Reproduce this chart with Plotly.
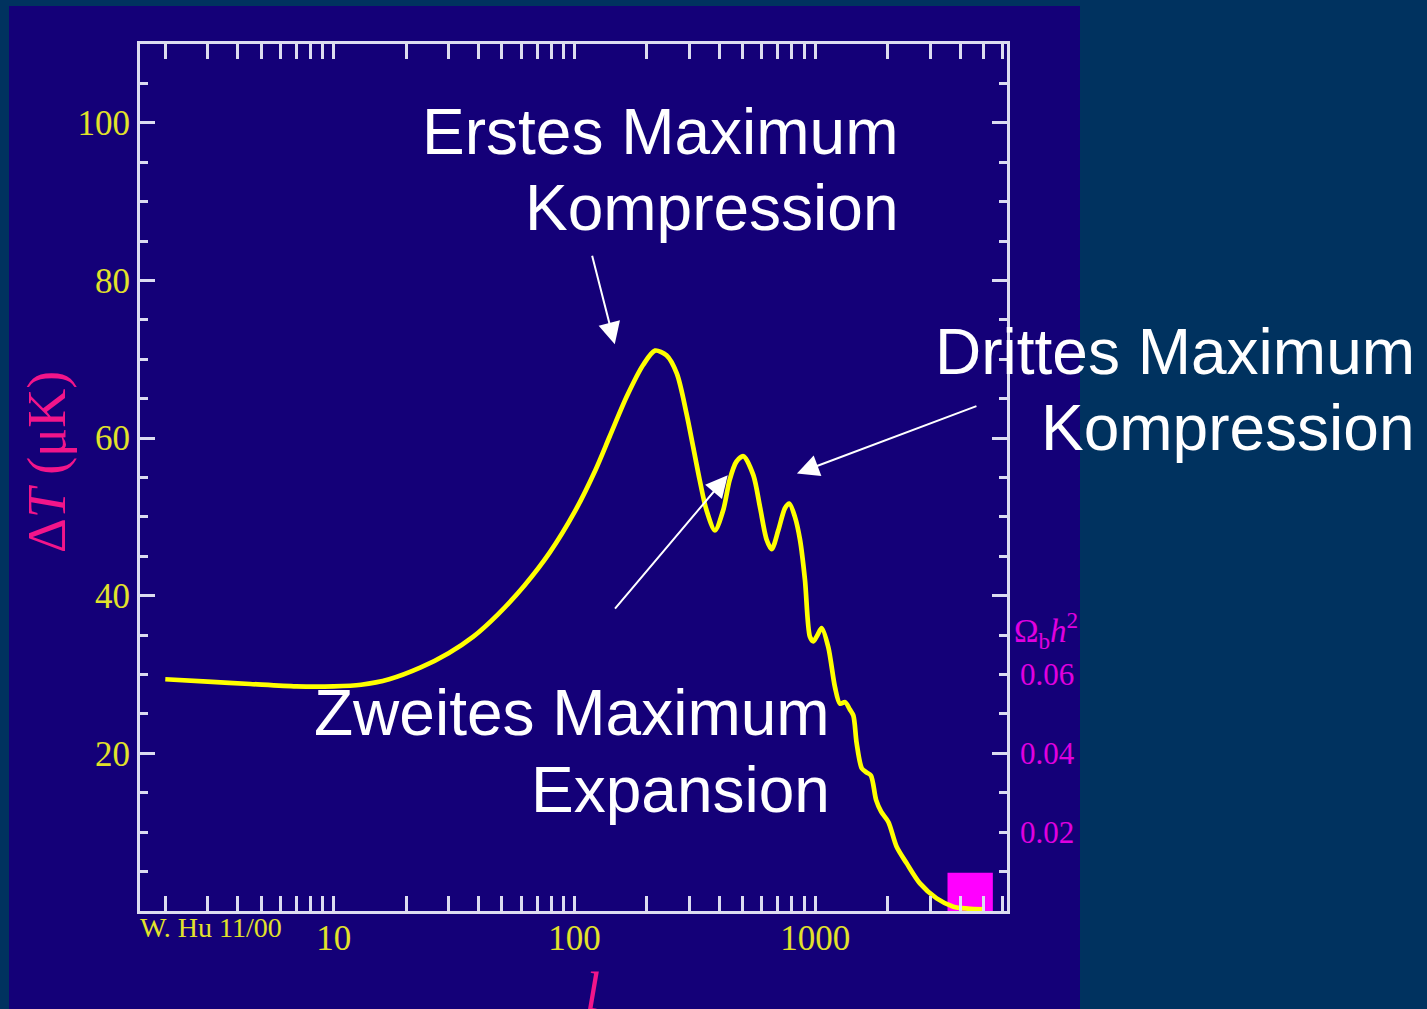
import math
import plotly.graph_objects as go

# Temperature anisotropy power spectrum: multipole l vs Delta T (micro-Kelvin)
multipole_l = [2, 3, 4.5, 7, 10, 13, 17, 23, 30, 38, 48, 62, 79, 100, 122, 140,
               165, 193, 216, 241, 266, 292, 311, 331, 353, 383, 415, 441, 470,
               503, 553, 589, 628, 659, 702, 748, 780, 823, 864, 906, 950, 982,
               1020, 1063, 1132, 1207, 1266, 1330, 1390, 1439, 1485, 1560, 1630,
               1702, 1788, 1877, 2011, 2177, 2396, 2720, 3191, 3743, 4300, 5000]
delta_T_uK = [29.4, 29.1, 28.8, 28.5, 28.5, 28.7, 29.4, 30.9, 32.7, 34.8, 37.6,
              41.3, 45.5, 50.6, 55.9, 60.2, 65.3, 69.3, 71.1, 70.5, 68.2, 63.1,
              58.9, 54.7, 50.9, 48.3, 50.9, 54.7, 57.0, 57.7, 55.3, 51.3, 47.1,
              45.9, 48.3, 51.1, 51.7, 50.0, 47.1, 42.0, 34.8, 34.2, 35.0, 35.9,
              33.5, 28.4, 26.3, 26.5, 25.6, 24.8, 21.3, 18.1, 17.6, 17.2, 14.1,
              12.6, 11.3, 8.15, 6.05, 3.5, 1.6, 0.55, 0.3, 0.2]

# Baryon-density slider knob (l span, height in uK)
knob_l = [3540, 5460]
knob_height = [0, 4.85]

# Axis ticks
x_tick_vals = [10, 100, 1000]
x_tick_text = ["10", "100", "1000"]
y_tick_vals = [20, 40, 60, 80, 100]
y_tick_text = ["20", "40", "60", "80", "100"]
omega_tick_vals = [0.02, 0.04, 0.06]
omega_tick_text = ["0.02", "0.04", "0.06"]

# Arrow targets (l, Delta T) and tail offsets in pixels
arrow_tip_l = [147, 839, 433]
arrow_tip_T = [71.9, 55.5, 55.3]
arrow_tail_dx = [-23, 181, -114]
arrow_tail_dy = [-90, -68, 135]

W, H = 1427, 1009
M_L, M_R, M_T, M_B = 140, 420, 44, 98
PW, PH = W - M_L - M_R, H - M_T - M_B

OUTER = "#00325f"
PANEL = "#140078"
SPINE = "#dcdcf0"
YELLOW_TXT = "#e2e22a"
PINK = "#f2158a"
MAGENTA = "#e000e0"
SERIF = "Liberation Serif, Times New Roman, serif"
SANS = "Liberation Sans, Arial, sans-serif"


def px_x(p):
    return (p - M_L) / PW


def px_y(p):
    return (M_T + PH - p) / PH


fig = go.Figure()

fig.add_trace(go.Scatter(
    x=[knob_l[0], knob_l[1], knob_l[1], knob_l[0], knob_l[0]],
    y=[knob_height[0], knob_height[0], knob_height[1], knob_height[1], knob_height[0]],
    mode="lines", fill="toself", fillcolor="#ff00ff",
    line=dict(width=0, color="#ff00ff"), hoverinfo="skip", showlegend=False,
))

fig.add_trace(go.Scatter(
    x=multipole_l, y=delta_T_uK, mode="lines",
    line=dict(color="#ffff00", width=4.7, shape="spline", smoothing=0.8),
    showlegend=False,
))

# Placeholder so the secondary (Omega_b h^2) axis is drawn
fig.add_trace(go.Scatter(x=[None], y=[None], yaxis="y2", mode="lines",
                         hoverinfo="skip", showlegend=False))

axis_common = dict(
    showline=True, linecolor=SPINE, linewidth=3, mirror="allticks",
    ticks="inside", ticklen=15, tickwidth=3, tickcolor=SPINE,
    showgrid=False, zeroline=False,
    tickfont=dict(family=SERIF, size=35, color=YELLOW_TXT),
)

fig.update_layout(
    width=W, height=H, autosize=False,
    margin=dict(l=M_L, r=M_R, t=M_T, b=M_B, pad=0),
    paper_bgcolor=OUTER, plot_bgcolor=PANEL,
    xaxis=dict(
        type="log", range=[0.196, 3.796],
        tickmode="array", tickvals=x_tick_vals, ticktext=x_tick_text,
        ticklabelstandoff=-6,
        minor=dict(ticks="inside", ticklen=8, tickwidth=3, tickcolor=SPINE,
                   dtick="D1", showgrid=False),
        **axis_common,
    ),
    yaxis=dict(
        range=[0, 110],
        tickmode="array", tickvals=y_tick_vals, ticktext=y_tick_text,
        minor=dict(ticks="inside", ticklen=8, tickwidth=3, tickcolor=SPINE,
                   dtick=5, showgrid=False),
        **axis_common,
    ),
    yaxis2=dict(
        overlaying="y", side="right", range=[0, 0.22],
        tickmode="array", tickvals=omega_tick_vals, ticktext=omega_tick_text,
        ticks="", showline=False, showgrid=False, zeroline=False,
        ticklabelstandoff=12,
        tickfont=dict(family=SERIF, size=31, color=MAGENTA),
    ),
)

# Inner dark panel behind the plot
fig.add_shape(type="rect", xref="paper", yref="paper", layer="below",
              x0=px_x(9), x1=px_x(1080), y0=px_y(1009), y1=px_y(6),
              fillcolor=PANEL, line=dict(width=0))

# Headline texts
labels = [
    ("Erstes Maximum", 901, 132),
    ("Kompression", 901, 208),
    ("Drittes Maximum", 1417, 352),
    ("Kompression", 1417, 428),
    ("Zweites Maximum", 832, 713),
    ("Expansion", 832, 790),
]
for txt, xr, yc in labels:
    fig.add_annotation(text=txt, xref="paper", yref="paper",
                       x=px_x(xr), y=px_y(yc), xanchor="right", yanchor="middle",
                       showarrow=False, font=dict(family=SANS, size=64, color="white"))

# Arrows pointing at the peaks
for l_tip, t_tip, dx, dy in zip(arrow_tip_l, arrow_tip_T, arrow_tail_dx, arrow_tail_dy):
    fig.add_annotation(text="", xref="x", yref="y", x=math.log10(l_tip), y=t_tip,
                       ax=dx, ay=dy, axref="pixel", ayref="pixel",
                       showarrow=True, arrowhead=2, arrowsize=2.2, arrowwidth=2,
                       arrowcolor="white", standoff=0)

# Axis titles and small labels
fig.add_annotation(text="Δ<i>T</i> (μK)", xref="paper", yref="paper",
                   x=px_x(47), y=px_y(462), textangle=-90, showarrow=False,
                   xanchor="center", yanchor="middle",
                   font=dict(family=SERIF, size=54, color=PINK))
fig.add_annotation(text="<i>l</i>", xref="paper", yref="paper",
                   x=px_x(592), y=px_y(992), showarrow=False,
                   xanchor="center", yanchor="middle",
                   font=dict(family=SERIF, size=54, color=PINK))
fig.add_annotation(text="W. Hu 11/00", xref="paper", yref="paper",
                   x=px_x(138), y=px_y(928), showarrow=False,
                   xanchor="left", yanchor="middle",
                   font=dict(family=SERIF, size=28, color=YELLOW_TXT))
fig.add_annotation(text="Ω<sub>b</sub><i>h</i><sup>2</sup>", xref="paper", yref="paper",
                   x=px_x(1012), y=px_y(630), showarrow=False,
                   xanchor="left", yanchor="middle",
                   font=dict(family=SERIF, size=33, color=MAGENTA))

fig.write_html("out.html")
